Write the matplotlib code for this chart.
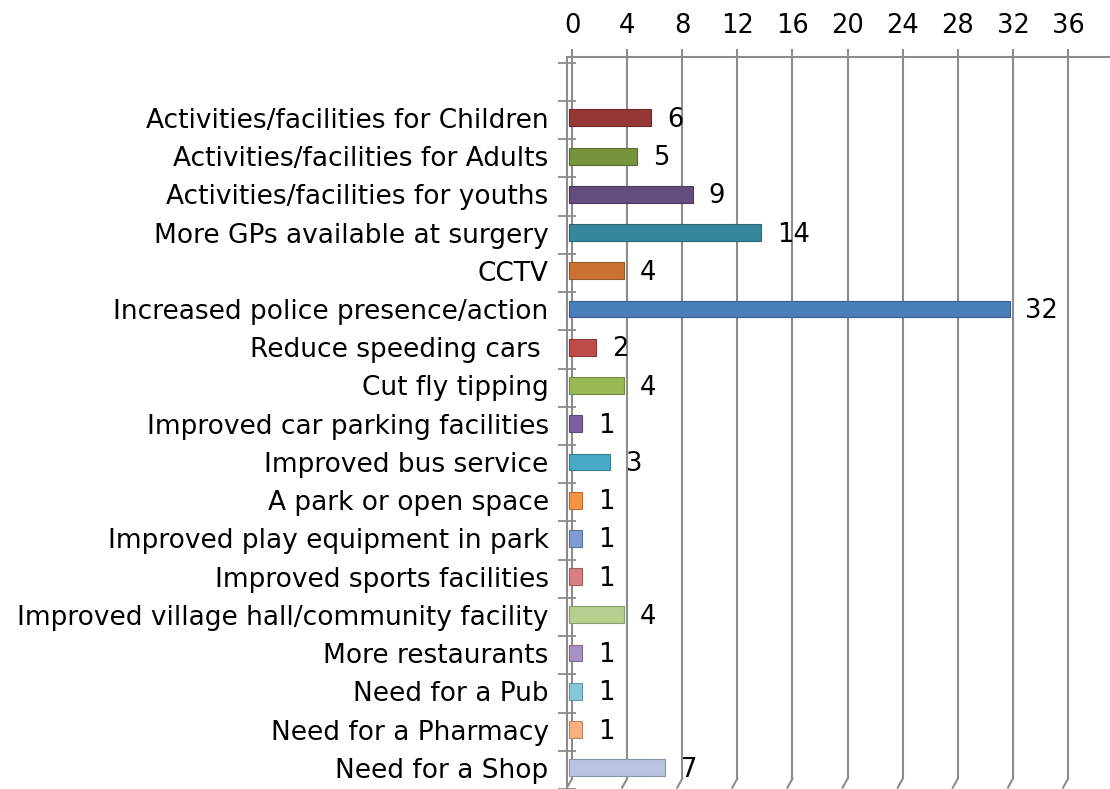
import matplotlib
matplotlib.use("Agg")
import matplotlib.pyplot as plt
import numpy as np

categories = [
    "Activities/facilities for Children",
    "Activities/facilities for Adults",
    "Activities/facilities for youths",
    "More GPs available at surgery",
    "CCTV",
    "Increased police presence/action",
    "Reduce speeding cars ",
    "Cut fly tipping",
    "Improved car parking facilities",
    "Improved bus service",
    "A park or open space",
    "Improved play equipment in park",
    "Improved sports facilities",
    "Improved village hall/community facility",
    "More restaurants",
    "Need for a Pub",
    "Need for a Pharmacy",
    "Need for a Shop",
]
values = [6, 5, 9, 14, 4, 32, 2, 4, 1, 3, 1, 1, 1, 4, 1, 1, 1, 7]
colors = ["#953735", "#77933C", "#644C7E", "#37879C", "#CB7233", "#4A7EBB",
          "#BE4B48", "#98B954", "#7D60A0", "#46AAC5", "#F59443", "#7E9CD3",
          "#D88081", "#B5CF8E", "#A692C3", "#86C8D9", "#FBB07F", "#B9C4E2"]
xticks = [0, 4, 8, 12, 16, 20, 24, 28, 32, 36]

W, H = 1110, 789
fig = plt.figure(figsize=(W / 100, H / 100), dpi=100)
left_px, top_px = 566.7, 57
ax = fig.add_axes([left_px / W, 0, 1 - left_px / W, (H - top_px) / H])

px_per_unit = 13.78
x0_px = 572
xmin = -(x0_px - left_px) / px_per_unit
xmax = (W - x0_px) / px_per_unit
ax.set_xlim(xmin, xmax)

row = 38.3
c0 = 118
ax.set_ylim((H - c0) / row, -(c0 - top_px) / row)

y = np.arange(len(categories))


def darker(c, f=0.75):
    r, g, b = matplotlib.colors.to_rgb(c)
    return (r * f, g * f, b * f)


# gridlines with 3D floor bend
y_bottom = ax.get_ylim()[0]
y_bend = (780 - c0) / row
for t in xticks:
    ax.plot([t, t], [ax.get_ylim()[1], y_bend], color="#8C8C8C", lw=1.5,
            zorder=1, clip_on=False, solid_capstyle="butt")
    ax.plot([t, t - 5 / px_per_unit], [y_bend, y_bottom], color="#8C8C8C",
            lw=1.5, zorder=1, clip_on=False)

bars = ax.barh(y, values, left=-0.25, height=0.44, color=colors,
               edgecolor=[darker(c) for c in colors], linewidth=0.8, zorder=3)
for yi, v in zip(y, values):
    ax.annotate(str(v), xy=(v, yi), xytext=(9, -1.5), textcoords="offset points",
                ha="left", va="center", fontsize=18.5, color="black", zorder=4)

ax.xaxis.tick_top()
ax.tick_params(axis="x", length=6, width=1.5, color="#8C8C8C", pad=7,
               direction="out", labelsize=18.5, labeltop=True, labelbottom=False)
ax.set_xticks(xticks)
ax.set_xticklabels([str(t) for t in xticks])

ax.tick_params(axis="y", which="major", length=0, pad=13, labelsize=19)
ax.set_yticks(y)
ax.set_yticklabels(categories)
bounds = (101 + row * np.arange(-1, len(categories) + 1) - c0) / row
ax.set_yticks(bounds, minor=True)
ax.tick_params(axis="y", which="minor", length=13, direction="inout",
               width=1.3, color="#8C8C8C")
ax.yaxis.set_minor_formatter(matplotlib.ticker.NullFormatter())

for s in ["right", "bottom"]:
    ax.spines[s].set_visible(False)
ax.spines["top"].set_color("#8C8C8C")
ax.spines["top"].set_linewidth(1.5)
ax.spines["left"].set_color("#8C8C8C")
ax.spines["left"].set_linewidth(1.5)

fig.savefig("out.png", dpi=100)
